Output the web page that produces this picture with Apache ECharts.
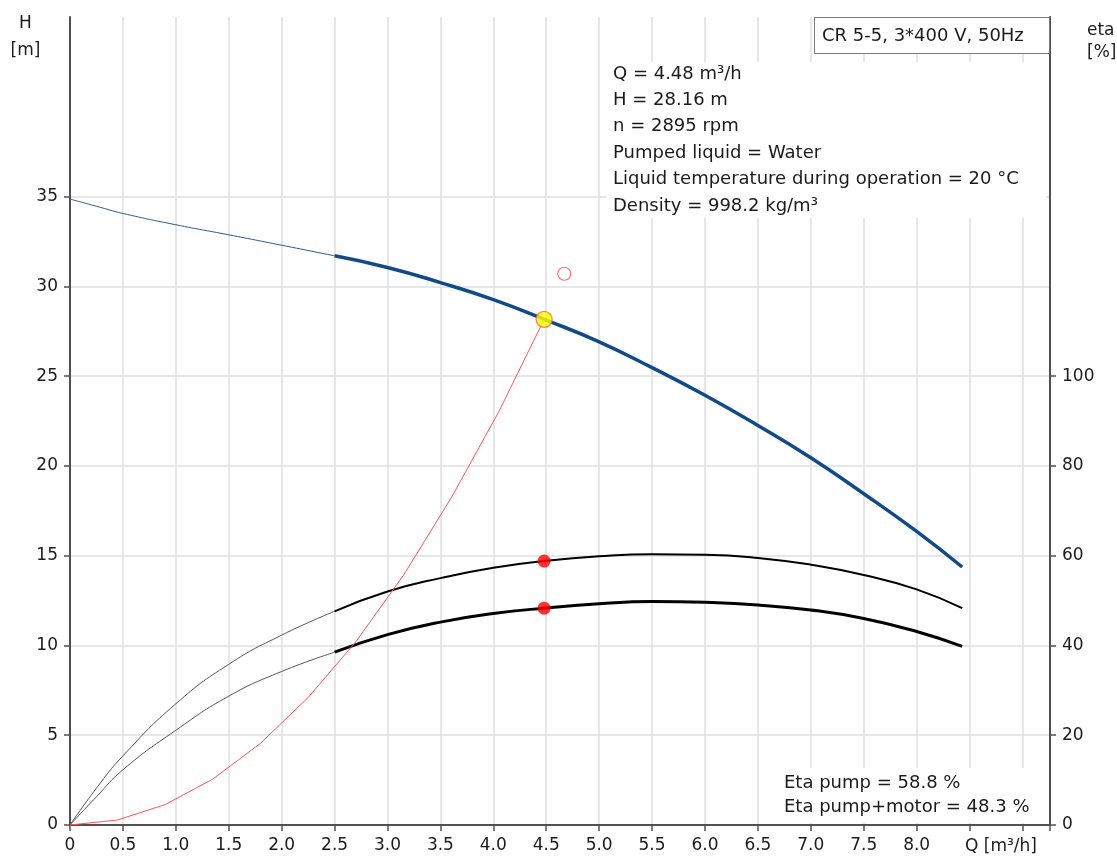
<!DOCTYPE html>
<html>
<head>
<meta charset="utf-8">
<title>CR 5-5 pump curve</title>
<script src="https://cdn.jsdelivr.net/npm/echarts@6.0.0/dist/echarts.min.js"></script>
<style>
  html, body { margin: 0; padding: 0; background: #fff; }
  #chart { width: 1117px; height: 857px; }
</style>
</head>
<body>
<div id="chart"></div>
<script>
// Flow rate samples [m³/h] shared by the pump curves
const qCurve = [0, 0.25, 0.5, 1.0, 1.5, 2.0, 2.5, 3.0, 3.5, 4.0, 4.5, 5.0, 5.5, 6.0, 6.5, 7.0, 7.5, 8.0, 8.43];
// Head [m]
const headValues = [34.86, 34.46, 34.06, 33.43, 32.87, 32.29, 31.70, 31.05, 30.21, 29.26, 28.12, 26.91, 25.47, 23.93, 22.25, 20.45, 18.45, 16.35, 14.37];
// Pump efficiency [%]
const etaPump = [0, 8.2, 15.4, 27.0, 35.8, 42.3, 47.6, 52.0, 55.0, 57.3, 58.85, 59.85, 60.3, 60.2, 59.5, 58.0, 55.7, 52.5, 48.3];
// Pump + motor efficiency [%]
const etaTotal = [0, 6.3, 12.3, 21.1, 28.7, 34.2, 38.5, 42.4, 45.2, 47.1, 48.35, 49.3, 49.8, 49.6, 49.0, 47.9, 46.0, 43.1, 39.8];
// Start of the recommended operating range (index into qCurve)
const rangeStart = 6;

// System curve
const qSystem = [0, 0.45, 0.9, 1.35, 1.8, 2.25, 2.7, 3.15, 3.6, 4.05, 4.48];
const hSystem = [0, 0.28, 1.14, 2.56, 4.55, 7.1, 10.2, 13.9, 18.2, 23.0, 28.16];

// Duty point
const dutyQ = 4.48;
const dutyH = 28.16;
const dutyEtaPump = 58.8;
const dutyEtaTotal = 48.3;
const dutySpeed = 2895;
// Requested point
const requestQ = 4.67;
const requestH = 30.7;

// Axis labels
const qTicks = [0, 0.5, 1.0, 1.5, 2.0, 2.5, 3.0, 3.5, 4.0, 4.5, 5.0, 5.5, 6.0, 6.5, 7.0, 7.5, 8.0];
const hTicks = [0, 5, 10, 15, 20, 25, 30, 35];
const etaTicks = [0, 20, 40, 60, 80, 100];

const infoLines = [
  'Q = ' + dutyQ.toFixed(2) + ' m³/h',
  'H = ' + dutyH.toFixed(2) + ' m',
  'n = ' + dutySpeed + ' rpm',
  'Pumped liquid = Water',
  'Liquid temperature during operation = 20 °C',
  'Density = 998.2 kg/m³'
];
const etaLines = [
  'Eta pump = ' + dutyEtaPump.toFixed(1) + ' %',
  'Eta pump+motor = ' + dutyEtaTotal.toFixed(1) + ' %'
];
const titleText = 'CR 5-5, 3*400 V, 50Hz';

const FONT = 'DejaVu Sans';
const TEXT = '#1b1b1b';

function pairs(xs, ys, from, to) {
  const out = [];
  for (let i = from; i < to; i++) out.push([xs[i], ys[i]]);
  return out;
}
const n = qCurve.length;

function lineSeries(name, data, yIndex, color, width) {
  return {
    name: name, type: 'line', data: data, yAxisIndex: yIndex,
    smooth: 0.5, showSymbol: false, silent: true,
    lineStyle: { color: color, width: width }, z: 3
  };
}

const axisLineStyle = { color: '#505050', width: 2 };
const labelStyle = { color: TEXT, fontFamily: FONT, fontSize: 17 };

const chart = echarts.init(document.getElementById('chart'));
chart.setOption({
  animation: false,
  backgroundColor: '#fff',
  grid: { left: 70, right: 67, top: 17, bottom: 32, containLabel: false, outerBoundsMode: 'none' },
  xAxis: {
    type: 'value', min: 0, max: 9.26, interval: 0.5,
    axisLine: { show: true, onZero: false, lineStyle: axisLineStyle },
    axisTick: { show: true, length: 6, lineStyle: { color: '#505050', width: 1.5 } },
    axisLabel: Object.assign({
      margin: 12,
      customValues: qTicks,
      formatter: v => (v === 0 ? '0' : v.toFixed(1))
    }, labelStyle),
    splitLine: { show: true, lineStyle: { color: '#dcdfe3', width: 1.5 } }
  },
  yAxis: [
    {
      type: 'value', min: 0, max: 45, interval: 5, position: 'left',
      axisLine: { show: true, onZero: false, lineStyle: axisLineStyle },
      axisTick: { show: true, length: 6, customValues: hTicks, lineStyle: { color: '#505050', width: 1.5 } },
      axisLabel: Object.assign({ margin: 12, customValues: hTicks }, labelStyle),
      splitLine: { show: true, lineStyle: { color: '#dcdfe3', width: 1.5 } }
    },
    {
      type: 'value', min: 0, max: 180, interval: 20, position: 'right',
      axisLine: { show: true, onZero: false, lineStyle: axisLineStyle },
      axisTick: { show: true, length: 6, customValues: etaTicks, lineStyle: { color: '#505050', width: 1.5 } },
      axisLabel: Object.assign({ margin: 12, customValues: etaTicks }, labelStyle),
      splitLine: { show: false }
    }
  ],
  series: [
    lineSeries('H thin', pairs(qCurve, headValues, 0, rangeStart + 1), 0, '#2a5a96', 1),
    lineSeries('H', pairs(qCurve, headValues, rangeStart, n), 0, '#124a87', 3.5),
    lineSeries('Eta pump thin', pairs(qCurve, etaPump, 0, rangeStart + 1), 1, '#555', 1),
    lineSeries('Eta pump', pairs(qCurve, etaPump, rangeStart, n), 1, '#000', 2),
    lineSeries('Eta total thin', pairs(qCurve, etaTotal, 0, rangeStart + 1), 1, '#555', 1),
    lineSeries('Eta total', pairs(qCurve, etaTotal, rangeStart, n), 1, '#000', 3),
    {
      name: 'System', type: 'line', data: pairs(qSystem, hSystem, 0, qSystem.length),
      showSymbol: false, silent: true, smooth: false,
      lineStyle: { color: '#ff5555', width: 1 }, z: 4
    },
    {
      name: 'Eta points', type: 'scatter', yAxisIndex: 1, silent: true,
      data: [[dutyQ, dutyEtaPump], [dutyQ, dutyEtaTotal]],
      symbolSize: 13, itemStyle: { color: '#ff0000' }, z: 6
    },
    {
      name: 'Request', type: 'scatter', silent: true,
      data: [[requestQ, requestH]],
      symbolSize: 13, itemStyle: { color: '#fff', borderColor: '#ff4d4d', borderWidth: 1.2 }, z: 6
    },
    {
      name: 'Duty', type: 'scatter', silent: true,
      data: [[dutyQ, dutyH]],
      symbolSize: 16, itemStyle: { color: '#ffff00', borderColor: '#ff6a2a', borderWidth: 1.3 }, z: 7
    }
  ],
  graphic: [
    // backgrounds behind the text blocks
    { type: 'rect', z: 100, shape: { x: 606, y: 62, width: 440, height: 156 }, style: { fill: '#fff' } },
    { type: 'rect', z: 100, shape: { x: 776, y: 768, width: 256, height: 55 }, style: { fill: '#fff' } },
    { type: 'rect', z: 101, shape: { x: 814.5, y: 17.5, width: 235, height: 36 },
      style: { fill: '#fff', stroke: '#7a7a7a', lineWidth: 1 } },
    { type: 'text', z: 102, x: 822, y: 36,
      style: { text: titleText, fill: TEXT, font: '18px "' + FONT + '"', textVerticalAlign: 'middle' } },
    ...infoLines.map((t, i) => ({
      type: 'text', z: 102, x: 613, y: 74 + i * 26.4,
      style: { text: t, fill: TEXT, font: '18px "' + FONT + '"', textVerticalAlign: 'middle' }
    })),
    ...etaLines.map((t, i) => ({
      type: 'text', z: 102, x: 784, y: 783 + i * 24.5,
      style: { text: t, fill: TEXT, font: '18px "' + FONT + '"', textVerticalAlign: 'middle' }
    })),
    // axis names
    { type: 'text', z: 102, x: 25.5, y: 24, style: { text: 'H', fill: TEXT, font: '17px "' + FONT + '"', textAlign: 'center', textVerticalAlign: 'middle' } },
    { type: 'text', z: 102, x: 25.5, y: 51, style: { text: '[m]', fill: TEXT, font: '17px "' + FONT + '"', textAlign: 'center', textVerticalAlign: 'middle' } },
    { type: 'text', z: 102, x: 1087, y: 31, style: { text: 'eta', fill: TEXT, font: '17px "' + FONT + '"', textVerticalAlign: 'middle' } },
    { type: 'text', z: 102, x: 1087, y: 53, style: { text: '[%]', fill: TEXT, font: '17px "' + FONT + '"', textVerticalAlign: 'middle' } },
    { type: 'text', z: 102, x: 965, y: 847, style: { text: 'Q [m³/h]', fill: TEXT, font: '17px "' + FONT + '"', textVerticalAlign: 'middle' } }
  ]
});
</script>
</body>
</html>
